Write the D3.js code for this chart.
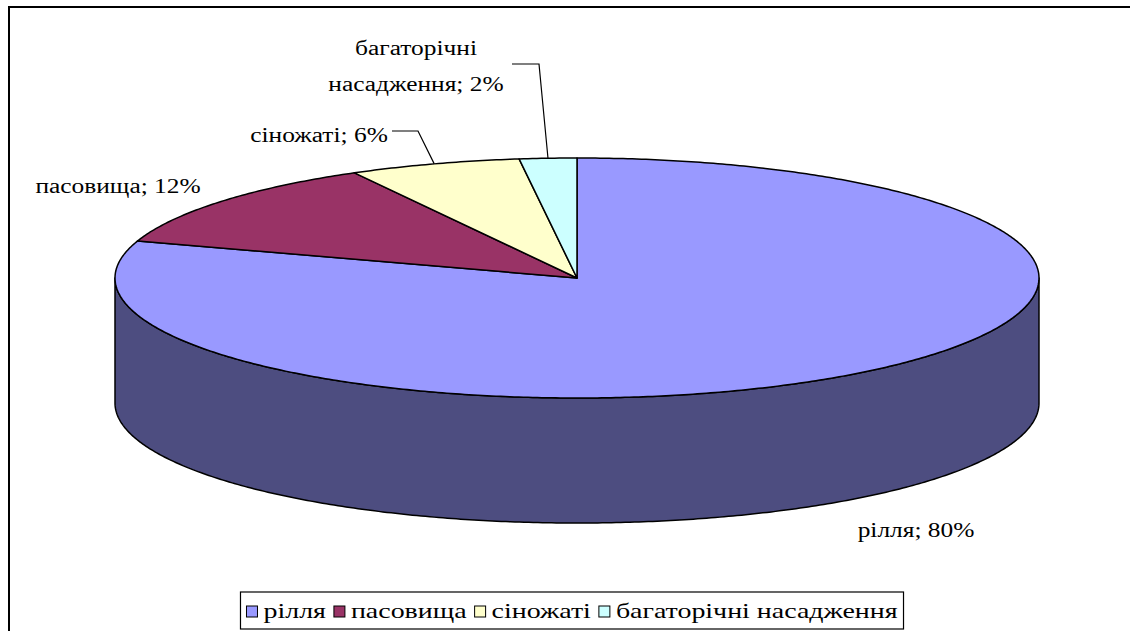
<!DOCTYPE html>
<html lang="uk">
<head>
  <meta charset="UTF-8" />
  <title>Структура сільськогосподарських угідь</title>
  <script src="https://d3js.org/d3.v7.min.js"></script>
  <style>
    body { margin: 0; background: white; }
    svg { display: block; }
  </style>
</head>
<body>

<svg width="1130" height="631"></svg>

<script>
  const categories = ["рілля", "пасовища", "сіножаті", "багаторічні насадження"];
  const values = [80, 12, 6, 2];
  const percentLabels = ["80%", "12%", "6%", "2%"];
  const topColors = ["#9999FF", "#993366", "#FFFFCC", "#CCFFFF"];
  const sideColors = ["#4D4D80", "#4D1A33", "#808066", "#668080"];

  const font = "'Liberation Serif', 'Times New Roman', serif";

  const svg = d3.select("svg");
  const width = +svg.attr("width");
  const height = +svg.attr("height");

  // the original picture is stretched horizontally
  const sx = 1.27;

  // chart frame (runs off the right and bottom edge)
  svg.append("rect")
    .attr("x", 9).attr("y", 7)
    .attr("width", width + 20).attr("height", height + 20)
    .attr("fill", "white")
    .attr("stroke", "#000")
    .attr("stroke-width", 2);

  // pie geometry
  const cx = 577, cy = 278, rx = 462, ry = 120, depth = 125;
  const pt = a => [cx + rx * Math.sin(a), cy - ry * Math.cos(a)];

  const pie = d3.pie().sort(null).value(d => d)
    .startAngle(0).endAngle(2 * Math.PI);
  const arcs = pie(values);

  const line = d3.line();

  function edge(a0, a1) {
    const n = Math.max(2, Math.ceil((a1 - a0) / 0.01));
    return d3.range(n + 1).map(i => pt(a0 + (a1 - a0) * i / n));
  }

  const g = svg.append("g");

  // side walls (front half only: angles PI/2 .. 3PI/2)
  arcs.forEach((d, i) => {
    const a0 = Math.max(d.startAngle, Math.PI / 2);
    const a1 = Math.min(d.endAngle, 3 * Math.PI / 2);
    if (a1 <= a0) return;
    const top = edge(a0, a1);
    const bottom = top.map(p => [p[0], p[1] + depth]).reverse();
    g.append("path")
      .attr("d", line(top.concat(bottom)) + "Z")
      .attr("fill", sideColors[i])
      .attr("stroke", "#000")
      .attr("stroke-width", 1.5)
      .attr("stroke-linejoin", "round");
  });

  // top faces
  arcs.forEach((d, i) => {
    const pts = [[cx, cy]].concat(edge(d.startAngle, d.endAngle));
    g.append("path")
      .attr("d", line(pts) + "Z")
      .attr("fill", topColors[i])
      .attr("stroke", "#000")
      .attr("stroke-width", 1.5)
      .attr("stroke-linejoin", "round");
  });

  // data labels
  const labelPos = [
    { x: 916, y: 537 },
    { x: 118, y: 193 },
    { x: 319, y: 142, leader: [[392, 131], [418, 131]] },
    { x: 416, y: 55, leader: [[512, 64], [539, 64]] }
  ];

  const labelLines = i => {
    if (i === 3) return ["багаторічні", "насадження; " + percentLabels[i]];
    return [categories[i] + "; " + percentLabels[i]];
  };

  arcs.forEach((d, i) => {
    const p = labelPos[i];
    const t = svg.append("text")
      .attr("font-family", font)
      .attr("font-size", 20)
      .attr("text-anchor", "middle")
      .attr("transform", `translate(${p.x},${p.y}) scale(${sx},1)`);
    labelLines(i).forEach((s, k) => {
      t.append("tspan").attr("x", 0).attr("y", k * 36).text(s);
    });
    if (p.leader) {
      const mid = pt((d.startAngle + d.endAngle) / 2);
      svg.append("path")
        .attr("d", line(p.leader.concat([mid])))
        .attr("fill", "none")
        .attr("stroke", "#000")
        .attr("stroke-width", 1.2);
    }
  });

  // legend
  const legend = svg.append("g");
  const legendBox = legend.append("rect")
    .attr("fill", "white")
    .attr("stroke", "#000")
    .attr("stroke-width", 1.2);

  let x = 0;
  const items = legend.append("g");
  categories.forEach((c, i) => {
    items.append("rect")
      .attr("x", x).attr("y", -12)
      .attr("width", 11).attr("height", 11)
      .attr("fill", topColors[i])
      .attr("stroke", "#000")
      .attr("stroke-width", 1);
    const t = items.append("text")
      .attr("font-family", font)
      .attr("font-size", 22)
      .attr("transform", `translate(${x + 17},0) scale(${sx},1)`)
      .text(c);
    x += 17 + t.node().getComputedTextLength() * sx + 8;
  });
  const total = x - 8;
  const lx = 572 - total / 2;
  items.attr("transform", `translate(${lx},618)`);
  legendBox
    .attr("x", lx - 6).attr("y", 592)
    .attr("width", total + 12).attr("height", 37);
</script>

</body>
</html>
